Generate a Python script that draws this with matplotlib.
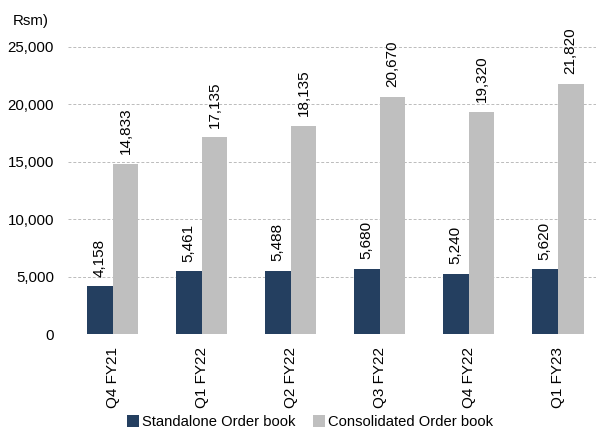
import matplotlib.pyplot as plt
import numpy as np

quarters = ['Q4 FY21', 'Q1 FY22', 'Q2 FY22', 'Q3 FY22', 'Q4 FY22', 'Q1 FY23']
standalone = [4158, 5461, 5488, 5680, 5240, 5620]
consolidated = [14833, 17135, 18135, 20670, 19320, 21820]

plt.rcParams['font.family'] = ['Liberation Sans', 'DejaVu Sans']
plt.rcParams['font.size'] = 10.5

navy = '#243f60'
grey = '#bfbfbf'

fig = plt.figure(figsize=(5.96, 4.30), dpi=100)
ax = fig.add_axes([68 / 596, 1 - 334 / 430, 1 - 68 / 596, 287 / 430])

x = np.arange(len(quarters))
w = 0.29
b1 = ax.bar(x - w / 2, standalone, w, color=navy, label='Standalone Order book', zorder=3)
b2 = ax.bar(x + w / 2, consolidated, w, color=grey, label='Consolidated Order book', zorder=3)

# value labels above each bar
for bars, vals in ((b1, standalone), (b2, consolidated)):
    for rect, v in zip(bars, vals):
        ax.annotate(f'{v:,}', (rect.get_x() + rect.get_width() / 2, v),
                    xytext=(0, 7), textcoords='offset points',
                    rotation=90, ha='center', va='bottom', fontsize=11,
                    annotation_clip=False)

ax.set_ylim(0, 25000)
ax.set_xlim(-0.5, 5.43)
ax.set_yticks(range(0, 25001, 5000))
ax.set_yticklabels([f'{t:,}' for t in range(0, 25001, 5000)], fontsize=10.8)
ax.set_xticks(x)
ax.set_xticklabels(quarters, rotation=90, fontsize=11)
ax.tick_params(axis='y', length=0, pad=10)
ax.tick_params(axis='x', length=0, pad=9)
ax.grid(axis='y', color='#bbbbbb', linestyle=(0, (3, 2)), linewidth=0.7, zorder=0)
for s in ax.spines.values():
    s.set_visible(False)

fig.text(13 / 596, 1 - 21 / 430, 'Rsm)', fontsize=10.8, va='center')

fig.legend(loc='center', bbox_to_anchor=(310 / 596, 1 - 422 / 430), ncol=2,
           frameon=False, handlelength=0.8, handleheight=0.8, handletextpad=0.2,
           columnspacing=1.2, fontsize=10.6)

fig.savefig('out.png', dpi=100)
